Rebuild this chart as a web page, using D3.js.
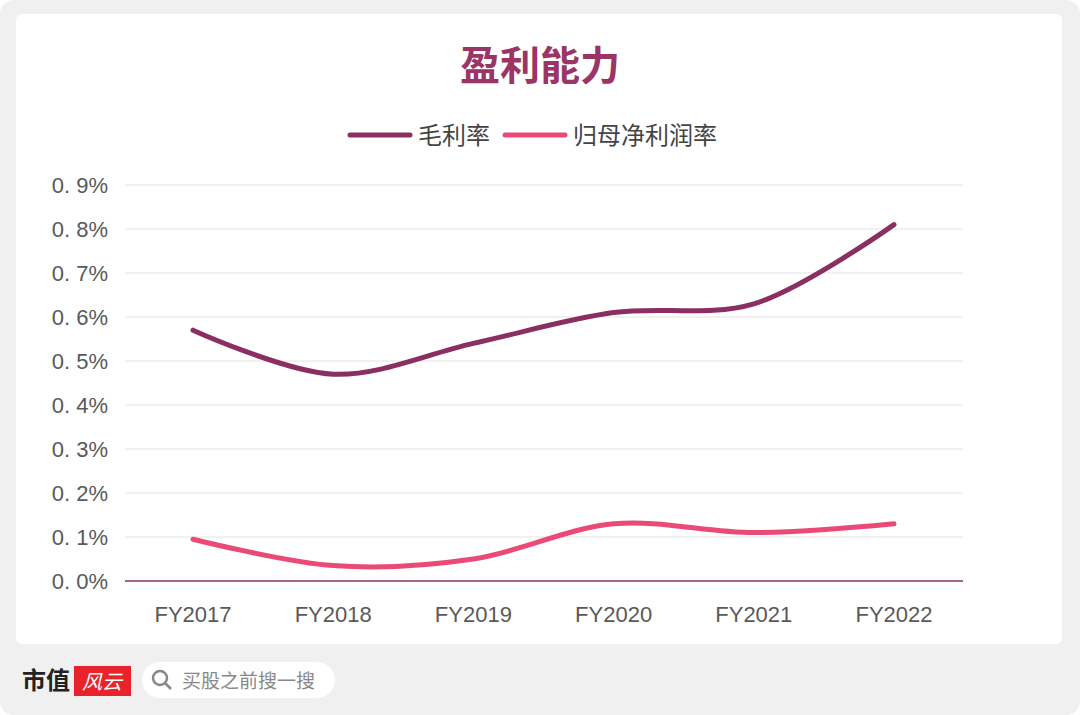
<!DOCTYPE html>
<html><head><meta charset="utf-8">
<script src="https://cdn.jsdelivr.net/npm/d3@7"></script>
<style>body{margin:0;background:#fff;font-family:"Noto Sans CJK SC","Noto Sans",sans-serif}</style>
</head><body><div id="chart"></div>
<script>
var years = ['FY2017','FY2018','FY2019','FY2020','FY2021','FY2022'];
var grossMargin = [0.57,0.47,0.54,0.61,0.63,0.81];
var netMargin = [0.095,0.035,0.05,0.13,0.11,0.13];
var yTicks = [0,0.1,0.2,0.3,0.4,0.5,0.6,0.7,0.8,0.9];

var W = 1080, H = 715;
var svg = d3.select('#chart').append('svg').attr('width',W).attr('height',H);
svg.append('rect').attr('x',0).attr('y',0).attr('width',W).attr('height',H).attr('rx',14).attr('fill','#f0f0f0');
svg.append('rect').attr('x',16).attr('y',14).attr('width',1046).attr('height',630).attr('rx',6).attr('fill','#fff');

var x = d3.scalePoint().domain(years).range([193,894]);
var y = d3.scaleLinear().domain([0,0.9]).range([581,185]);

svg.append('text').attr('x',540).attr('y',80).attr('text-anchor','middle')
  .attr('font-size',40).attr('font-weight','bold').attr('fill','#9a3565').text('盈利能力');

// legend
var legend = [{name:'毛利率',color:'#8b2f62',x:350},{name:'归母净利润率',color:'#ea4a77',x:505}];
legend.forEach(function(l){
  svg.append('line').attr('x1',l.x).attr('x2',l.x+60).attr('y1',135).attr('y2',135)
    .attr('stroke',l.color).attr('stroke-width',5).attr('stroke-linecap','round');
  svg.append('text').attr('x',l.x+68).attr('y',144).attr('font-size',24).attr('fill','#444').text(l.name);
});

// grid
svg.selectAll('.grid').data(yTicks.slice(1)).enter().append('line')
  .attr('x1',125).attr('x2',963).attr('y1',d=>y(d)).attr('y2',d=>y(d))
  .attr('stroke','#e3e3e3').attr('stroke-width',1);
svg.append('line').attr('x1',125).attr('x2',963).attr('y1',y(0)).attr('y2',y(0))
  .attr('stroke','#8b2f62').attr('stroke-width',1.5);

svg.selectAll('.yl').data(yTicks).enter().append('text')
  .attr('x',108).attr('y',d=>y(d)+8).attr('text-anchor','end')
  .attr('font-size',22).attr('fill','#595959').attr('font-family','"Liberation Sans",sans-serif')
  .text(d=>d.toFixed(1).replace('.','. ')+'%');

svg.selectAll('.xl').data(years).enter().append('text')
  .attr('x',d=>x(d)).attr('y',622).attr('text-anchor','middle')
  .attr('font-size',22).attr('fill','#595959').attr('font-family','"Liberation Sans",sans-serif')
  .text(d=>d);

var line = d3.line().x((d,i)=>x(years[i])).y(d=>y(d)).curve(d3.curveCatmullRom.alpha(0.5));
[[grossMargin,'#8b2f62'],[netMargin,'#ea4a77']].forEach(function(s){
  svg.append('path').attr('d',line(s[0])).attr('fill','none').attr('stroke',s[1])
    .attr('stroke-width',5).attr('stroke-linecap','round');
});

// footer
svg.append('text').attr('x',22).attr('y',689).attr('font-size',24).attr('font-weight','bold').attr('fill','#222').text('市值');
svg.append('rect').attr('x',74).attr('y',666).attr('width',57).attr('height',30).attr('fill','#e8232c');
svg.append('text').attr('x',102).attr('y',689).attr('text-anchor','middle').attr('font-size',20).attr('font-style','italic').attr('fill','#fff').text('风云');
svg.append('rect').attr('x',142).attr('y',662).attr('width',193).attr('height',36).attr('rx',18).attr('fill','#fff');
svg.append('circle').attr('cx',160).attr('cy',678).attr('r',7).attr('fill','none').attr('stroke','#888').attr('stroke-width',2.5);
svg.append('line').attr('x1',165).attr('y1',683).attr('x2',171).attr('y2',689).attr('stroke','#888').attr('stroke-width',2.5);
svg.append('text').attr('x',182).attr('y',688).attr('font-size',19).attr('fill','#888').text('买股之前搜一搜');
</script></body></html>
